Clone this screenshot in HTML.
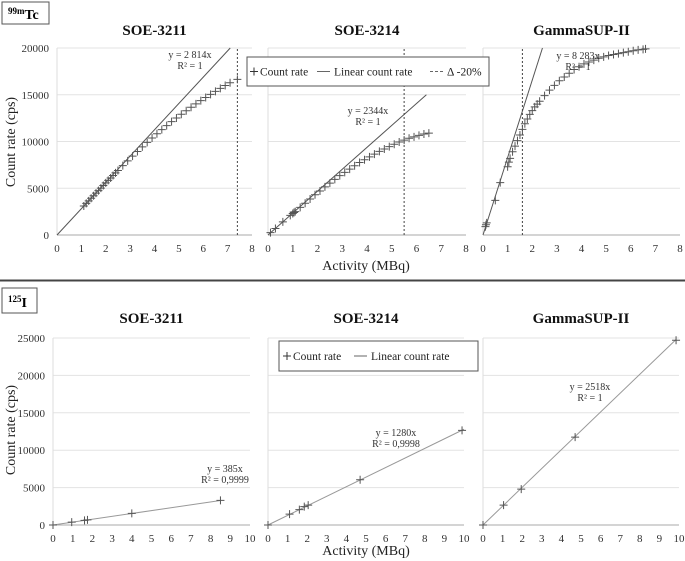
<!DOCTYPE html>
<html><head><meta charset="utf-8"><style>
body{margin:0;background:#fff;}
svg{display:block;font-family:"Liberation Serif",serif;}
</style></head><body>
<svg id="fig" width="685" height="561" viewBox="0 0 685 561" xmlns="http://www.w3.org/2000/svg">
<rect width="685" height="561" fill="#fff"/>
<g id="static">
<rect x="2" y="2" width="47" height="22" fill="#fff" stroke="#555"/>
<text x="8" y="19" font-size="14" font-weight="bold"><tspan font-size="9" dy="-5">99m</tspan><tspan dy="5">Tc</tspan></text>
<line x1="0" y1="280.5" x2="685" y2="280.5" stroke="#444" stroke-width="2"/>
<rect x="2" y="288" width="35" height="25" fill="#fff" stroke="#555"/>
<text x="8" y="307" font-size="14" font-weight="bold"><tspan font-size="9" dy="-5">125</tspan><tspan dy="5">I</tspan></text>
<text x="366" y="270" font-size="14" text-anchor="middle" fill="#222">Activity (MBq)</text>
<text x="366" y="555" font-size="14" text-anchor="middle" fill="#222">Activity (MBq)</text>
<text transform="translate(15,142) rotate(-90)" font-size="14" text-anchor="middle" fill="#222">Count rate (cps)</text>
<text transform="translate(15,430) rotate(-90)" font-size="14" text-anchor="middle" fill="#222">Count rate (cps)</text>
</g>
</svg>
<script>
// Tc-99m data
const tcXTicks=[0,1,2,3,4,5,6,7,8];
const tcYTicks=[0,5000,10000,15000,20000];
const soe3211TcX=[1.1,1.2,1.3,1.4,1.5,1.6,1.7,1.8,1.9,2.0,2.1,2.2,2.3,2.4,2.5,2.7,2.9,3.1,3.3,3.5,3.7,3.9,4.1,4.3,4.5,4.7,4.9,5.1,5.3,5.5,5.7,5.9,6.1,6.3,6.5,6.7,6.9,7.1,7.4];
const soe3211TcY=[3100,3380,3650,3930,4200,4480,4750,5020,5300,5570,5840,6100,6370,6640,6900,7420,7930,8430,8930,9420,9900,10370,10830,11270,11700,12120,12520,12910,13290,13660,14020,14370,14710,15040,15360,15680,15990,16290,16650];
const soe3214TcX=[0.1,0.3,0.6,0.9,1.0,1.05,1.1,1.3,1.5,1.7,1.9,2.1,2.3,2.5,2.7,2.9,3.1,3.3,3.5,3.7,3.9,4.1,4.3,4.5,4.7,4.9,5.1,5.3,5.5,5.7,5.9,6.1,6.3,6.5];
const soe3214TcY=[250,700,1400,2100,2300,2400,2500,2950,3400,3850,4300,4700,5150,5550,5950,6350,6700,7050,7400,7750,8050,8350,8650,8950,9200,9450,9700,9950,10150,10350,10500,10650,10800,10900];
const gammaTcX=[0.1,0.12,0.15,0.5,0.7,1.0,1.05,1.1,1.2,1.3,1.4,1.5,1.6,1.7,1.8,1.9,2.0,2.1,2.2,2.3,2.5,2.7,2.9,3.1,3.3,3.5,3.7,3.9,4.1,4.3,4.5,4.7,4.9,5.1,5.3,5.5,5.7,5.9,6.1,6.3,6.5,6.6];
const gammaTcY=[900,1100,1300,3700,5600,7300,7800,8200,8900,9500,10100,10700,11300,11900,12400,12900,13300,13700,14000,14300,14900,15500,16000,16500,16900,17300,17700,18000,18300,18500,18700,18900,19050,19200,19300,19400,19500,19600,19700,19800,19850,19900];
const tcSlopes=[2814,2344,8283];
const tcLimits=[7.4,5.5,1.6];
// I-125 data
const iXTicks=[0,1,2,3,4,5,6,7,8,9,10];
const iYTicks=[0,5000,10000,15000,20000,25000];
const soe3211IX=[0,0.95,1.6,1.75,4,8.5];
const soe3211IY=[0,380,620,680,1550,3300];
const soe3214IX=[0,1.1,1.6,1.85,2.05,4.7,9.9];
const soe3214IY=[0,1450,2050,2450,2650,6050,12650];
const gammaIX=[0,1.05,1.95,4.7,9.85];
const gammaIY=[0,2650,4800,11750,24700];
const iSlopes=[385,1280,2518];
const titles=["SOE-3211","SOE-3214","GammaSUP-II"];

const NS="http://www.w3.org/2000/svg";
const svg=document.getElementById('fig');
function mk(tag,attrs,parent){const e=document.createElementNS(NS,tag);for(const k in attrs)e.setAttribute(k,attrs[k]);(parent||svg).appendChild(e);return e;}

function panel(o){
  const g=mk('g',{});
  
  
  const sx=v=>o.x0+(v-o.xmin)/(o.xmax-o.xmin)*(o.x1-o.x0);
  const sy=v=>o.y0-(v/o.ymax)*(o.y0-o.y1);
  const t=mk('text',{x:(o.x0+o.x1)/2,y:o.ty,'font-size':15,'font-weight':'bold','text-anchor':'middle',fill:'#111'},g);
  t.textContent=o.title;
  
  
  o.yTicks.forEach(v=>{
    const l=mk('line',{x1:o.x0,x2:o.x1,y1:sy(v),y2:sy(v),stroke:v===0?'#aaa':'#e3e3e3'},g);
    
    
    if(o.showY){
      const tt=mk('text',{x:o.x0-8,y:sy(v)+4,'font-size':11,'text-anchor':'end',fill:'#333'},g);
      tt.textContent=v;
      
      
    }
  });
  const ax=mk('line',{x1:o.x0,x2:o.x0,y1:o.y0,y2:o.y1,stroke:'#ddd'},g);
  
  
  o.xTicks.forEach(v=>{
    const tt=mk('text',{x:sx(v),y:o.y0+17,'font-size':11,'text-anchor':'middle',fill:'#333'},g);
    tt.textContent=v;
    
    
  });
  let xe=o.lineEnd;
  if(o.slope*xe>o.ymax) xe=o.ymax/o.slope;
  const ln=mk('line',{x1:sx(0),y1:sy(0),x2:sx(xe),y2:sy(o.slope*xe),stroke:o.lineColor,'stroke-width':1},g);
  
  
  if(o.limit!==undefined){
    const d=mk('line',{x1:sx(o.limit),x2:sx(o.limit),y1:o.y0,y2:o.y1,stroke:'#444','stroke-dasharray':'2,2'},g);
    
    
  }
  o.xs.forEach((xv,i)=>{
    const cx=sx(xv),cy=sy(o.ys[i]),s=4;
    const p=mk('path',{d:`M${cx-s},${cy}H${cx+s}M${cx},${cy-s}V${cy+s}`,stroke:'#555','stroke-width':1},g);
    
    
  });
  const a=mk('text',{x:o.ax,y:o.ay,'font-size':10,'text-anchor':'middle',fill:'#333'},g);
  
  
  const t1=mk('tspan',{x:o.ax,dy:0},a);t1.textContent='y = '+o.eq;
  const t2=mk('tspan',{x:o.ax,dy:11},a);t2.textContent='R² = '+o.r2;
}

const topX=[[57,252],[268,466],[483,680]];
const botX=[[53,250],[268,464],[483,679]];
const tcData=[[soe3211TcX,soe3211TcY],[soe3214TcX,soe3214TcY],[gammaTcX,gammaTcY]];
const iData=[[soe3211IX,soe3211IY],[soe3214IX,soe3214IY],[gammaIX,gammaIY]];
const tcEq=[['2 814x','1',190,58],['2344x','1',368,114],['8 283x','1',578,59]];
const iEq=[['385x','0,9999',225,472],['1280x','0,9998',396,436],['2518x','1',590,390]];
const tcLineEnd=[8,6.4,8];
const iLineEnd=[8.5,10,9.85];
for(let i=0;i<3;i++){
  panel({name:'tc-panel-'+titles[i].toLowerCase(),title:titles[i],ty:35,x0:topX[i][0],x1:topX[i][1],xmin:0,xmax:8,y0:235,y1:48,ymax:20000,
    xTicks:tcXTicks,yTicks:tcYTicks,showY:i===0,xs:tcData[i][0],ys:tcData[i][1],slope:tcSlopes[i],lineEnd:tcLineEnd[i],
    limit:tcLimits[i],lineColor:'#555',eq:tcEq[i][0],r2:tcEq[i][1],ax:tcEq[i][2],ay:tcEq[i][3]});
  panel({name:'i-panel-'+titles[i].toLowerCase(),title:titles[i],ty:323,x0:botX[i][0],x1:botX[i][1],xmin:0,xmax:10,y0:525,y1:338,ymax:25000,
    xTicks:iXTicks,yTicks:iYTicks,showY:i===0,xs:iData[i][0],ys:iData[i][1],slope:iSlopes[i],lineEnd:iLineEnd[i],
    lineColor:'#999',eq:iEq[i][0],r2:iEq[i][1],ax:iEq[i][2],ay:iEq[i][3]});
}
function legend(x,y,w,h,name,items){
  const g=mk('g',{});
  
  
  mk('rect',{x:x,y:y,width:w,height:h,fill:'#fff',stroke:'#555'},g);
  items.forEach(it=>{
    const cy=y+h/2;
    if(it.type==='plus'){mk('path',{d:`M${it.x-4},${cy}H${it.x+4}M${it.x},${cy-4}V${cy+4}`,stroke:'#333'},g);}
    else mk('line',{x1:it.x-8,x2:it.x+5,y1:cy,y2:cy,stroke:'#666','stroke-dasharray':it.type==='dash'?'3,2':'none'},g);
    const t=mk('text',{x:it.x+(it.type==='plus'?6:9),y:cy+4,'font-size':11.5,fill:'#222'},g);
    t.textContent=it.label;
    
    
  });
}
legend(247,57,242,29,'legend-tc',[{type:'plus',x:254,label:'Count rate'},{type:'line',x:325,label:'Linear count rate'},{type:'dash',x:438,label:'Δ -20%'}]);
legend(279,341,199,30,'legend-i',[{type:'plus',x:287,label:'Count rate'},{type:'line',x:362,label:'Linear count rate'}]);
</script>
</body></html>
